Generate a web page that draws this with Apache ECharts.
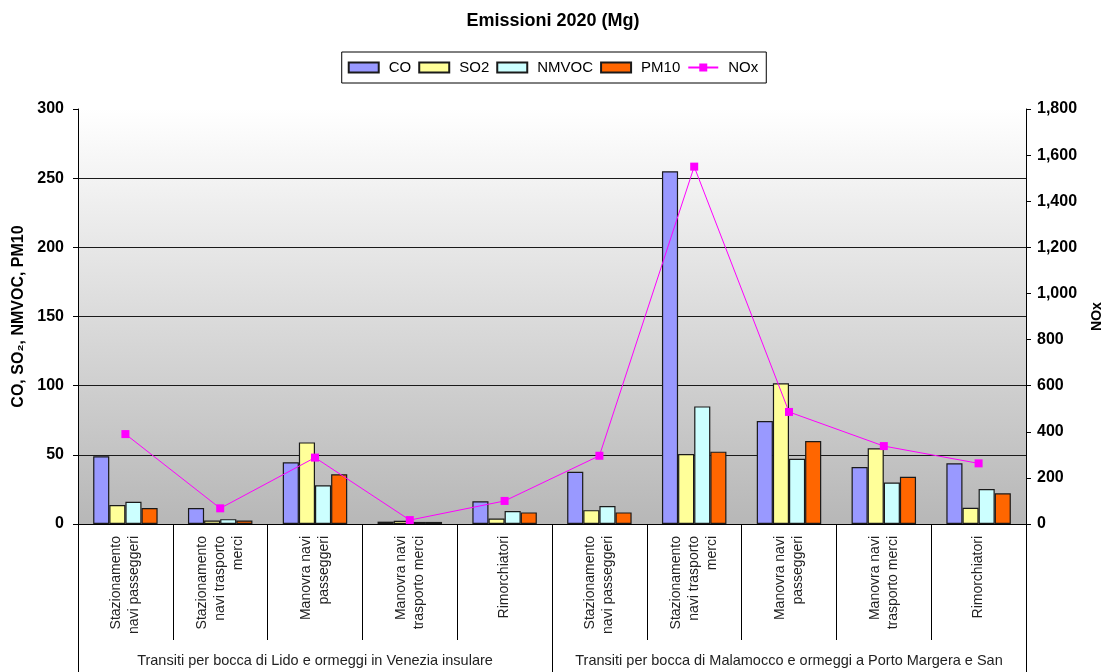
<!DOCTYPE html>
<html>
<head>
<meta charset="utf-8">
<script src="https://cdn.jsdelivr.net/npm/echarts@6/dist/echarts.min.js"></script>
<style>html,body{margin:0;padding:0;background:#fff;}#c{width:1106px;height:672px;}</style>
</head>
<body>
<div id="c"></div>
<script>
const categories = [
  "Stazionamento\nnavi passeggeri", "Stazionamento\nnavi trasporto\nmerci", "Manovra navi\npasseggeri", "Manovra navi\ntrasporto merci", "Rimorchiatori",
  "Stazionamento\nnavi passeggeri", "Stazionamento\nnavi trasporto\nmerci", "Manovra navi\npasseggeri", "Manovra navi\ntrasporto merci", "Rimorchiatori"
];
const groups = ["Transiti per bocca di Lido e ormeggi in Venezia insulare", "Transiti per bocca di Malamocco e ormeggi a Porto Margera e San"];
const CO    = [49, 11.5, 44.6, 1.7, 16.4, 37.8, 255, 74.5, 41.2, 43.9];
const SO2   = [13.7, 2.5, 59, 2.3, 4, 10, 50.6, 101.7, 54.7, 11.8];
const NMVOC = [16, 3.5, 28, 1.5, 9.4, 13, 85, 47.2, 30, 25.3];
const PM10  = [11.5, 2.5, 36, 1.5, 8.4, 8.4, 52.3, 60, 34.2, 22.2];
const NOx   = [390, 68, 288, 17, 100, 296, 1550, 486, 338, 263];
const leftTicks = {min: 0, max: 300, interval: 50};
const rightTicks = {min: 0, max: 1800, interval: 200};

const FONT = "Arial, 'Liberation Sans', sans-serif";
const chart = echarts.init(document.getElementById('c'), null, {renderer: 'canvas'});
const barBase = {type: 'bar', xAxisIndex: 0, yAxisIndex: 0, barGap: '0%', barCategoryGap: '32%'};
function bar(name, data, color) {
  return Object.assign({}, barBase, {name, data, itemStyle: {color, borderColor: '#1a1a1a', borderWidth: 1.2}});
}
chart.setOption({
  animation: false,
  backgroundColor: '#fff',
  textStyle: {fontFamily: FONT},
  title: {text: 'Emissioni 2020 (Mg)', left: 'center', top: 7,
    textStyle: {fontFamily: FONT, fontSize: 18, fontWeight: 'bold', color: '#000'}},
  legend: {top: 52, left: 'center', padding: [8, 8, 8, 6], borderColor: '#000', borderWidth: 1,
    itemWidth: 30, itemHeight: 10, itemGap: 7,
    textStyle: {fontFamily: FONT, fontSize: 15, color: '#000', padding: [0, 0, 0, 5]},
    data: [{name: 'CO', icon: 'rect'}, {name: 'SO2', icon: 'rect'}, {name: 'NMVOC', icon: 'rect'}, {name: 'PM10', icon: 'rect'}, 'NOx']},
  grid: {left: 78, right: 80, top: 109, bottom: 148, show: true, borderWidth: 0,
    outerBoundsMode: 'none', containLabel: false,
    backgroundColor: new echarts.graphic.LinearGradient(0, 0, 0, 1, [
      {offset: 0, color: '#ffffff'}, {offset: 1, color: '#b7b7b7'}])},
  xAxis: [
    {type: 'category', data: categories, position: 'bottom',
      axisLine: {show: true, lineStyle: {color: '#000', width: 1}},
      axisTick: {show: true, interval: 0, length: 116, lineStyle: {color: '#000'}},
      axisLabel: {interval: 0, rotate: 90, margin: 12, fontFamily: FONT, fontSize: 14, lineHeight: 18, color: '#222'}},
    {type: 'category', data: groups, position: 'bottom', offset: 0,
      axisLine: {show: false},
      axisTick: {show: true, interval: 0, length: 148, lineStyle: {color: '#000'}},
      axisLabel: {interval: 0, margin: 129, fontFamily: FONT, fontSize: 14.5, color: '#222'}}
  ],
  yAxis: [
    {type: 'value', min: leftTicks.min, max: leftTicks.max, interval: leftTicks.interval, position: 'left',
      name: 'CO, SO\u2082, NMVOC, PM10', nameLocation: 'middle', nameRotate: 90, nameGap: 46,
      nameTextStyle: {fontFamily: FONT, fontSize: 16, fontWeight: 'bold', color: '#000'},
      axisLine: {show: true, lineStyle: {color: '#000'}},
      axisTick: {show: true, length: 5, lineStyle: {color: '#000'}},
      axisLabel: {margin: 14, fontFamily: FONT, fontSize: 16, fontWeight: 'bold', color: '#000'},
      splitLine: {show: true, showMaxLine: false, lineStyle: {color: '#1a1a1a', width: 1}}},
    {type: 'value', min: rightTicks.min, max: rightTicks.max, interval: rightTicks.interval, position: 'right',
      name: 'NOx', nameLocation: 'middle', nameRotate: 90, nameGap: 64,
      nameTextStyle: {fontFamily: FONT, fontSize: 14, fontWeight: 'bold', color: '#000'},
      axisLine: {show: true, lineStyle: {color: '#000'}},
      axisTick: {show: true, length: 5, lineStyle: {color: '#000'}},
      axisLabel: {margin: 11, fontFamily: FONT, fontSize: 16, fontWeight: 'bold', color: '#000',
        formatter: v => v.toLocaleString('en-US')},
      splitLine: {show: false}}
  ],
  series: [
    bar('CO', CO, '#9999ff'),
    bar('SO2', SO2, '#ffff99'),
    bar('NMVOC', NMVOC, '#ccffff'),
    bar('PM10', PM10, '#ff6600'),
    {name: 'NOx', type: 'line', xAxisIndex: 0, yAxisIndex: 1, data: NOx,
      symbol: 'rect', symbolSize: 8, showAllSymbol: true,
      lineStyle: {color: '#ff00ff', width: 1},
      itemStyle: {color: '#ff00ff', borderWidth: 0}}
  ]
});
</script>
</body>
</html>
